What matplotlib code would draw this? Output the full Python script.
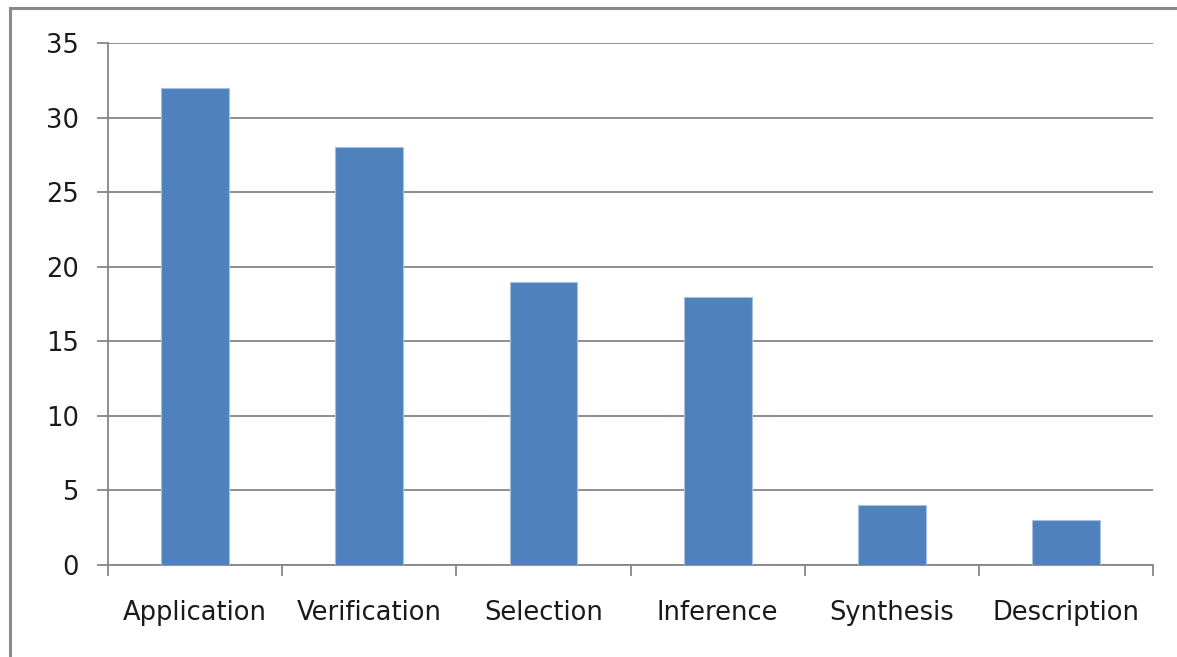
import matplotlib.pyplot as plt
from matplotlib.patches import Rectangle
import numpy as np

categories = ['Application', 'Verification', 'Selection', 'Inference', 'Synthesis', 'Description']
counts = [32, 28, 19, 18, 4, 3]
y_ticks = [0, 5, 10, 15, 20, 25, 30, 35]

bar_color = '#4F81BD'
line_color = '#868686'

plt.rcParams['font.family'] = 'DejaVu Sans'

fig = plt.figure(figsize=(11.77, 6.57), dpi=100)
ax = fig.add_axes([0.0918, 0.1400, 0.8879, 0.7945])

x = np.arange(len(categories))
ax.bar(x, counts, width=0.39, color=bar_color, edgecolor='#A7C0DE', linewidth=0.8, zorder=3)

ax.set_xlim(-0.5, len(categories) - 0.5)
ax.set_ylim(0, 35)
ax.set_yticks(y_ticks)
ax.set_yticklabels([str(v) for v in y_ticks], fontsize=18.5, color='#1a1a1a')

# labels sit under the bars, tick marks sit on the category boundaries
ax.set_xticks(x)
ax.set_xticklabels(categories, fontsize=18.5, color='#1a1a1a')
ax.set_xticks(np.arange(-0.5, len(categories)), minor=True)
ax.tick_params(axis='x', which='major', length=0, pad=25)
ax.tick_params(axis='x', which='minor', length=8, width=1.3, color=line_color, direction='out')
ax.tick_params(axis='y', length=8, width=1.3, color=line_color, direction='out', pad=13)

ax.yaxis.grid(True, color=line_color, linewidth=1.3, zorder=0)
ax.set_axisbelow(True)
for side in ('top', 'right'):
    ax.spines[side].set_visible(False)
for side in ('left', 'bottom'):
    ax.spines[side].set_color(line_color)
    ax.spines[side].set_linewidth(1.3)

# chart-area frame
fig.patches.append(Rectangle((9.5 / 1177, -0.1), 1.2, 1 - 8 / 657 + 0.1,
                             transform=fig.transFigure, fill=False,
                             edgecolor='#8a8a8a', linewidth=2.2))

fig.savefig('out.png', dpi=100)
